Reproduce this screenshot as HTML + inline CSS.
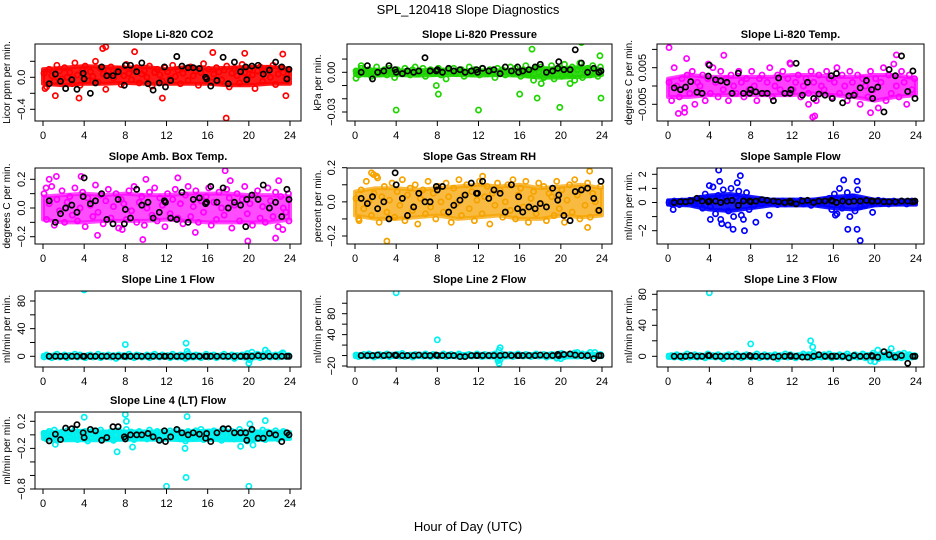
<!DOCTYPE html>
<html><head><meta charset="utf-8">
<style>
html,body{margin:0;padding:0;background:#fff;}
svg{display:block;font-family:"Liberation Sans",Arial,sans-serif;}
</style></head>
<body>
<svg id="chart" width="936" height="540" viewBox="0 0 936 540" xmlns="http://www.w3.org/2000/svg">
<rect x="0" y="0" width="936" height="540" fill="#fff"/>
<text x="468" y="14" text-anchor="middle" font-size="13">SPL_120418  Slope Diagnostics</text>
<text x="468" y="531" text-anchor="middle" font-size="13">Hour of Day (UTC)</text>
</svg>
<script>
// ---- shared sample hours ----
const hoursC = [0.1,0.35,0.6,0.85,1.1,1.35,1.6,1.85,2.1,2.35,2.6,2.85,3.1,3.35,3.6,3.85,4.1,4.35,4.6,4.85,5.1,5.35,5.6,5.85,6.1,6.35,6.6,6.85,7.1,7.35,7.6,7.85,8.1,8.35,8.6,8.85,9.1,9.35,9.6,9.85,10.1,10.35,10.6,10.85,11.1,11.35,11.6,11.85,12.1,12.35,12.6,12.85,13.1,13.35,13.6,13.85,14.1,14.35,14.6,14.85,15.1,15.35,15.6,15.85,16.1,16.35,16.6,16.85,17.1,17.35,17.6,17.85,18.1,18.35,18.6,18.85,19.1,19.35,19.6,19.85,20.1,20.35,20.6,20.85,21.1,21.35,21.6,21.85,22.1,22.35,22.6,22.85,23.1,23.35,23.6,23.85];
const hoursB = [0.6,1.2,1.7,2.2,2.8,3.3,3.9,4.0,4.6,5.1,5.7,6.2,6.8,7.3,7.9,8.0,8.5,9.1,9.6,10.2,10.7,11.3,11.8,11.9,12.4,13.0,13.5,14.1,14.6,15.2,15.8,15.9,16.3,16.9,17.5,18.0,18.6,19.2,19.7,19.8,20.3,20.9,21.4,22.0,22.6,23.2,23.7,23.9];
const bandHours = [0,2,4,6,8,10,12,14,16,18,20,22,24];
const xTicks = [0,4,8,12,16,20,24];

// ---- CO2 ----
const co2Color = [0.05,-0.12,0.1,0.02,-0.05,0.15,0.08,-0.02,0.12,0.0,0.06,-0.08,0.18,0.03,-0.1,0.09,0.14,-0.04,0.07,0.01,0.2,-0.06,0.11,0.04,-0.15,0.08,0.13,-0.01,0.06,0.1,-0.09,0.02,0.16,0.05,-0.03,0.09,0.12,-0.07,0.04,0.08,0.0,0.14,-0.11,0.06,0.1,0.03,-0.05,0.12,0.07,-0.02,0.15,0.01,0.09,-0.08,0.05,0.11,-0.04,0.13,0.02,0.08,-0.1,0.06,0.17,0.0,0.1,-0.06,0.04,0.12,0.07,-0.03,0.09,0.14,-0.12,0.05,0.11,0.02,-0.07,0.16,0.06,-0.01,0.1,0.03,-0.14,0.08,0.13,-0.05,0.07,0.11,0.0,0.15,-0.09,0.04,0.12,0.06,-0.02,0.09];
const co2BandLo = [-0.08,-0.1,-0.08,-0.08,-0.07,-0.08,-0.08,-0.08,-0.08,-0.1,-0.1,-0.08,-0.08];
const co2BandHi = [0.1,0.12,0.14,0.13,0.12,0.13,0.1,0.13,0.11,0.12,0.13,0.13,0.11];
const co2OutX = [5.8,6.1,11.6,17.8,19.6,16.5,1.2,0.2,23.6,8.9,3.5,23.3];
const co2OutY = [0.36,0.38,-0.26,-0.51,0.3,0.31,-0.23,-0.14,-0.23,0.32,-0.26,0.29];
const co2Black = [-0.08,0.04,-0.05,-0.14,-0.03,-0.15,0.05,-0.02,-0.2,-0.07,0.13,0.02,0.02,0.07,-0.1,0.15,0.15,0.07,0.18,-0.08,-0.16,-0.07,0.13,-0.12,-0.04,0.26,0.14,0.12,0.12,0.11,0.0,-0.02,-0.11,-0.04,0.25,-0.08,0.19,0.07,0.13,-0.03,0.14,0.15,0.04,0.09,0.19,0.13,-0.02,0.1];

// ---- Pressure ----
const presColor = [0.001,-0.002,0.003,0.0,-0.001,0.002,-0.003,0.001,0.004,-0.001,0.0,0.002,-0.002,0.003,0.001,-0.004,0.002,0.0,-0.001,0.003,0.001,-0.002,0.002,0.004,-0.001,0.0,0.003,-0.003,0.001,0.002,-0.001,0.0,0.003,-0.002,0.001,-0.005,0.002,0.0,0.003,-0.001,0.001,0.002,-0.003,0.0,0.004,-0.001,0.002,0.001,-0.002,0.003,0.0,-0.001,0.002,0.001,-0.004,0.003,0.0,0.002,-0.002,0.001,0.004,-0.001,0.003,0.0,-0.003,0.002,0.005,-0.002,0.001,-0.006,0.003,0.0,0.004,-0.004,0.002,-0.001,0.005,-0.005,0.001,0.003,-0.003,0.006,0.0,-0.002,0.004,-0.006,0.002,0.007,-0.004,0.001,0.003,-0.002,0.005,0.0,-0.003,0.004];
const presBandLo = [-0.002,-0.0025,-0.002,-0.0025,-0.002,-0.002,-0.0025,-0.002,-0.0025,-0.004,-0.004,-0.0035,-0.002];
const presBandHi = [0.0015,0.002,0.0015,0.0015,0.002,0.0015,0.0015,0.0015,0.002,0.003,0.003,0.004,0.002];
const presOutX = [0.1,0.6,4.0,8.1,12.0,16.0,17.2,17.7,19.9,22.0,23.9,23.8,18.1,20.9,7.9];
const presOutY = [-0.0045,0.005,-0.0285,-0.0165,-0.0285,-0.0165,0.0175,-0.0195,-0.0265,0.0225,-0.0195,0.0125,-0.0085,-0.0085,-0.01];
const presBlack = [0.0,0.005,-0.005,0.0,0.001,0.005,0.002,0.0,-0.001,0.001,0.0,0.001,0.011,0.001,0.001,0.002,0.0,0.003,0.001,0.002,0.0,0.001,0.002,0.0,0.003,0.001,0.002,-0.001,0.004,0.001,0.004,0.0,0.001,0.002,0.004,0.006,0.0,0.001,0.003,0.008,0.002,0.002,0.017,0.007,0.0,0.003,0.0,0.001];

// ---- Li-820 Temp ----
const tempColor = [0.001,-0.004,0.005,0.0,-0.003,0.002,-0.006,0.003,-0.002,0.004,-0.005,0.001,0.0,0.003,-0.004,0.002,-0.002,0.005,0.001,-0.003,0.004,-0.001,0.002,-0.004,0.003,0.0,-0.002,0.004,0.001,-0.003,0.002,-0.001,0.004,0.0,-0.004,0.002,0.003,-0.002,0.001,0.005,-0.003,0.0,0.003,-0.001,0.004,-0.002,0.002,0.006,-0.001,0.001,0.003,-0.003,0.0,0.002,-0.002,0.004,0.001,-0.004,0.003,0.0,-0.001,0.004,0.002,-0.003,0.001,0.005,-0.002,0.003,0.0,-0.004,0.004,0.001,-0.002,0.003,-0.005,0.002,0.0,-0.003,0.004,-0.001,0.002,-0.006,0.001,0.005,-0.004,0.003,-0.002,0.006,0.0,-0.003,0.004,0.001,-0.005,0.003,-0.001,0.002];
const tempBandLo = [-0.003,-0.003,-0.0025,-0.0025,-0.0025,-0.0025,-0.0025,-0.002,-0.0025,-0.003,-0.004,-0.003,-0.0025];
const tempBandHi = [0.002,0.003,0.0025,0.0025,0.0025,0.0025,0.003,0.003,0.0025,0.0025,0.003,0.003,0.002];
const tempOutX = [0.1,14.0,14.2,13.6,19.6,3.9,11.8,22.1,5.4,1.0,1.6,1.8];
const tempOutY = [0.0105,-0.0085,-0.0082,-0.005,-0.0073,0.006,0.0063,0.0085,0.0084,-0.0075,-0.0072,0.0075];
const tempBlack = [-0.0005,-0.001,-0.0003,0.0012,-0.0017,-0.002,0.0027,0.0057,0.0017,0.0014,0.001,-0.002,0.0035,-0.002,-0.002,-0.001,-0.0016,-0.002,-0.002,-0.004,0.0022,-0.002,-0.002,-0.001,0.0062,-0.0025,0.001,-0.0034,-0.0022,-0.0025,0.0028,-0.0034,0.0034,-0.0046,-0.0027,-0.0025,-0.0005,0.0015,-0.001,-0.0034,-0.0003,-0.0071,0.0045,0.0028,0.0082,-0.0015,0.0041,-0.0034];

// ---- Amb. Box Temp ----
const ambColor = [0.1,-0.08,0.03,0.15,-0.12,0.06,-0.02,0.12,-0.1,0.04,0.08,-0.05,0.14,-0.09,0.0,0.11,-0.13,0.07,0.02,-0.06,0.16,-0.03,0.09,-0.11,0.05,0.13,-0.07,0.01,0.1,-0.14,0.06,0.03,-0.08,0.12,-0.02,0.15,-0.1,0.04,0.08,-0.12,0.0,0.11,-0.05,0.14,-0.09,0.07,0.02,-0.13,0.1,-0.04,0.06,0.13,-0.07,0.03,-0.11,0.09,0.15,-0.06,0.01,0.12,-0.1,0.05,-0.03,0.08,0.14,-0.12,0.04,-0.08,0.11,0.0,-0.05,0.13,0.07,-0.14,0.02,0.1,-0.09,0.06,0.15,-0.04,0.03,-0.12,0.09,0.12,-0.07,0.01,-0.1,0.14,0.05,-0.06,0.11,-0.13,0.08,0.0,-0.03,0.1];
const ambBandLo = [-0.08,-0.1,-0.1,-0.09,-0.09,-0.09,-0.08,-0.09,-0.1,-0.1,-0.1,-0.1,-0.08];
const ambBandHi = [0.08,0.09,0.1,0.09,0.1,0.09,0.09,0.1,0.1,0.1,0.09,0.09,0.08];
const ambOutX = [0.6,1.3,3.7,5.3,9.7,10.0,13.1,17.7,18.2,19.9,22.6,22.9,23.3,23.9,7.7,14.8,0.3];
const ambOutY = [0.2,0.22,0.22,-0.19,-0.22,0.2,0.21,0.26,0.19,-0.23,-0.21,0.19,-0.15,-0.09,-0.15,-0.17,0.14];
const ambBlack = [0.05,-0.1,-0.04,0.0,0.02,-0.03,0.08,0.21,0.03,0.05,0.1,-0.08,-0.11,0.06,-0.11,-0.01,-0.07,0.13,0.02,0.04,-0.07,-0.03,0.05,0.04,-0.07,-0.08,0.11,-0.1,0.06,0.07,0.03,0.04,0.15,0.04,0.14,0.0,0.04,0.02,-0.13,0.06,0.09,0.06,0.16,0.0,0.04,-0.06,0.13,0.06];

// ---- Gas Stream RH ----
const rhColor = [0.02,-0.1,0.07,-0.04,0.12,0.0,-0.08,0.05,0.15,-0.12,0.03,0.09,-0.06,0.01,0.11,-0.09,0.06,-0.02,0.13,-0.11,0.04,0.08,-0.05,0.1,-0.13,0.02,0.07,-0.07,0.12,-0.03,0.05,-0.1,0.09,0.0,-0.06,0.11,0.03,-0.12,0.08,-0.01,0.13,-0.08,0.04,0.1,-0.04,0.06,-0.11,0.01,0.12,-0.07,0.03,0.09,-0.13,0.05,-0.02,0.11,0.07,-0.09,0.0,0.1,-0.05,0.13,-0.1,0.04,0.08,-0.03,0.12,-0.12,0.02,0.06,-0.07,0.11,-0.01,0.09,-0.11,0.05,0.03,-0.08,0.12,-0.04,0.07,-0.12,0.01,0.1,-0.06,0.13,0.04,-0.1,0.08,-0.02,0.11,-0.09,0.05,0.0,-0.05,0.09];
const rhBandLo = [-0.08,-0.1,-0.1,-0.09,-0.08,-0.1,-0.09,-0.08,-0.1,-0.1,-0.08,-0.09,-0.08];
const rhBandHi = [0.06,0.08,0.08,0.07,0.08,0.09,0.1,0.09,0.1,0.08,0.09,0.1,0.08];
const rhOutX = [1.6,1.8,3.1,22.8,22.6,12.4,2.2,0.4];
const rhOutY = [0.17,0.16,-0.23,0.18,-0.15,0.15,0.14,-0.11];
const rhBlack = [0.02,-0.01,0.03,-0.04,0.0,-0.1,0.17,0.1,0.02,-0.08,-0.03,0.05,0.0,0.0,0.09,0.07,0.09,-0.06,-0.02,0.01,0.04,0.11,0.05,0.05,0.12,0.02,0.07,0.05,-0.06,0.1,-0.04,0.03,-0.06,-0.03,-0.04,-0.01,-0.03,0.08,0.01,0.04,-0.08,-0.11,0.06,0.07,0.08,0.02,-0.05,0.12];

// ---- Sample Flow ----
const sfColor = [0.0,-0.1,0.1,0.05,-0.15,0.1,0.0,-0.05,0.15,0.1,-0.1,0.05,0.3,-0.4,0.6,0.2,-0.3,1.1,-0.8,0.5,-1.2,0.9,0.3,-0.6,1.0,-1.0,0.4,0.8,-0.9,0.2,0.7,-0.5,0.1,-0.2,0.05,0.15,-0.1,0.0,0.1,-0.05,0.05,0.1,-0.15,0.0,0.1,-0.1,0.05,0.0,0.1,-0.05,0.0,0.15,-0.1,0.05,0.0,-0.2,0.1,0.05,-0.1,0.0,0.15,-0.1,0.3,-0.5,0.6,-0.8,1.0,-0.4,0.2,0.7,-1.0,0.4,-0.6,0.9,-0.3,0.1,-0.2,0.05,0.1,-0.1,0.0,0.15,-0.05,0.1,0.0,-0.1,0.05,0.1,-0.05,0.0,0.1,0.05,-0.1,0.0,0.1,0.05];
const sfBandLo = [-0.15,-0.2,-0.5,-0.6,-0.4,-0.2,-0.2,-0.2,-0.4,-0.5,-0.2,-0.15,-0.15];
const sfBandHi = [0.15,0.2,0.5,0.6,0.4,0.2,0.2,0.2,0.4,0.5,0.2,0.15,0.15];
const sfOutX = [4.9,7.0,5.0,6.7,5.2,5.8,6.3,7.4,4.1,8.5,9.8,17.0,18.3,17.4,18.3,18.6,19.8,4.0,7.3,16.2,0.5];
const sfOutY = [2.3,1.9,1.5,1.4,-1.5,-1.6,-1.9,-2.0,-1.2,-1.4,-0.9,1.6,1.5,-1.9,-1.9,-2.7,-0.7,1.2,-1.2,-0.9,-0.5];
const sfBlack = [0.0,0.05,0.05,0.1,0.3,0.1,0.05,0.1,0.1,0.0,0.1,0.15,-0.2,0.1,0.1,0.05,0.1,0.2,0.15,0.1,0.05,0.0,0.1,0.0,-0.1,0.1,0.15,0.0,0.1,0.1,0.15,0.1,0.0,0.1,0.05,0.1,0.1,0.15,0.1,0.1,0.1,0.05,0.05,0.05,0.1,0.1,0.05,0.1];

// ---- Line 1 Flow ----
const l1Color = [-1,2,0,-2,1,3,-1,0,2,-2,1,0,3,-1,2,0,-2,1,2,-1,0,3,-2,1,0,2,-1,1,-3,2,0,1,-1,3,0,-2,2,1,-1,0,2,-2,1,3,0,-1,2,0,1,-2,3,0,-1,2,1,-3,4,0,-1,2,1,-2,0,3,-1,1,2,-2,0,1,3,-1,0,2,-3,1,0,2,-1,4,-5,1,0,3,-2,2,1,5,-1,0,2,-1,3,4,0,1];
const l1BandLo = [-2,-2,-2,-2,-2,-2,-2,-3,-2,-2,-3,-2,-2];
const l1BandHi = [2,2,2,2,2,2,2,3,2,2,3,3,2];
const l1OutX = [4.0,8.0,13.9,14.0,20.0,20.3,21.6,23.3];
const l1OutY = [96,17,19,7,-10,6,9,5];
const l1Black = [0,0,0,0,0,0,0,0,0,0,0,0,0,0,0,0,0,0,0,0,0,0,0,0,0,0,0,0,0,0,0,0,0,0,0,0,0,0,0,0,0,1,0,0,0,0,0,0];

// ---- Line 2 Flow ----
const l2Color = [1,-2,0,2,-1,3,0,-3,1,2,-1,0,3,-2,1,0,2,-1,4,-2,0,1,-3,2,0,1,-1,3,0,-2,2,1,-1,0,3,-2,1,2,0,-1,3,0,-2,1,2,-1,0,3,1,-2,2,0,-1,1,3,-4,-8,2,-1,0,2,-2,1,3,0,-1,2,1,-2,0,3,-1,1,2,-3,0,2,1,-5,3,4,-2,0,2,1,5,-1,0,3,-2,2,6,1,0,-1,2];
const l2BandLo = [-3,-3,-3,-3,-3,-3,-3,-4,-3,-3,-4,-3,-3];
const l2BandHi = [3,3,3,3,3,3,3,4,3,3,4,4,3];
const l2OutX = [4.0,8.0,14.0,14.1,13.9,14.0,20.0,21.6,23.3];
const l2OutY = [120,30,10,15,-10,-15,-6,6,6];
const l2Black = [0,0,0,1,0,1,1,0,0,0,0,1,0,0,1,0,0,0,0,-2,-2,0,0,0,0,0,0,0,1,0,0,0,0,0,0,1,0,0,2,0,2,3,1,0,0,-6,0,0];

// ---- Line 3 Flow ----
const l3Color = [0,1,-1,2,0,-2,1,3,-1,0,2,-1,1,0,-2,3,0,1,-1,2,0,-3,1,2,0,-1,3,0,-2,1,2,0,-1,1,3,-2,0,2,-1,1,0,2,-3,1,0,3,-1,2,0,-2,1,0,3,-1,2,-2,4,1,0,-1,2,0,3,-2,1,0,2,-1,1,3,-2,0,2,-1,0,3,-2,1,-6,4,2,-3,1,0,2,5,-1,1,0,3,-2,4,0,2,-1,1];
const l3BandLo = [-2,-2,-2,-2,-2,-2,-2,-2,-2,-2,-3,-3,-2];
const l3BandHi = [2,2,2,2,2,2,2,3,2,2,3,3,2];
const l3OutX = [4.0,8.0,13.8,14.0,20.0,20.3,21.6];
const l3OutY = [82,16,20,12,-7,8,10];
const l3Black = [0,0,0,1,0,0,1,1,0,0,0,0,0,0,1,0,0,0,0,-1,0,0,1,0,0,-1,-1,0,2,0,0,0,0,0,-2,1,0,0,1,0,-1,6,2,-1,1,-9,0,0];

// ---- Line 4 (LT) Flow ----
const l4Color = [0.02,-0.06,0.05,-0.02,0.07,-0.08,0.01,0.04,-0.05,0.06,-0.03,0.0,0.08,-0.07,0.03,-0.01,0.05,-0.09,0.02,0.06,-0.04,0.01,0.07,-0.06,0.03,-0.02,0.05,-0.08,0.0,0.06,-0.05,0.02,0.08,-0.03,0.04,-0.07,0.01,0.05,-0.04,0.03,-0.06,0.07,0.0,-0.02,0.05,-0.08,0.04,0.02,-0.05,0.06,-0.03,0.01,0.07,-0.06,0.03,-0.09,0.05,0.0,-0.04,0.06,-0.02,0.08,-0.07,0.02,0.04,-0.05,0.06,-0.01,0.03,-0.08,0.07,0.0,-0.04,0.05,-0.06,0.02,0.08,-0.03,0.04,-0.09,0.01,0.06,-0.05,0.03,-0.02,0.07,-0.07,0.04,0.0,-0.04,0.06,-0.06,0.02,0.05,-0.03,0.01];
const l4BandLo = [-0.06,-0.08,-0.08,-0.08,-0.07,-0.07,-0.07,-0.08,-0.07,-0.08,-0.08,-0.07,-0.06];
const l4BandHi = [0.04,0.05,0.06,0.05,0.05,0.05,0.05,0.05,0.06,0.06,0.05,0.05,0.04];
const l4OutX = [4.0,8.0,8.1,14.0,7.2,12.0,13.9,20.0,13.8,21.6,8.7,19.2,20.4,1.2,20.1];
const l4OutY = [0.26,0.3,0.2,0.27,-0.25,-0.76,-0.63,-0.76,-0.2,0.21,-0.18,-0.17,-0.15,-0.14,0.16];
const l4Black = [-0.09,0.01,-0.07,0.1,0.09,0.15,0.03,-0.04,0.08,0.06,-0.08,-0.04,0.12,0.12,-0.03,-0.06,0.0,0.0,0.0,0.02,-0.03,-0.08,0.06,-0.1,-0.03,0.08,0.03,0.0,0.03,0.01,-0.05,0.02,-0.1,0.03,0.09,0.09,0.03,0.03,0.03,-0.08,0.08,-0.05,-0.05,0.02,0.0,-0.1,0.03,0.0];

// ---- Y-axis tick values and labels ----
const yt1 = [-0.4,-0.2,0,0.2], yl1 = ["−0.4","","0.0",""];
const yt2 = [-0.03,-0.02,-0.01,0,0.01], yl2 = ["−0.03","","","0.00",""];
const yt3 = [-0.005,0,0.005,0.01], yl3 = ["−0.005","","0.005",""];
const yt4 = [-0.2,-0.1,0,0.1,0.2], yl4 = ["−0.2","","0.0","","0.2"];
const yt5 = [-0.2,-0.1,0,0.1,0.2], yl5 = ["−0.2","","0.0","","0.2"];
const yt6 = [-2,-1,0,1,2], yl6 = ["−2","","0","1","2"];
const yt7 = [0,20,40,60,80], yl7 = ["0","","40","","80"];
const yt8 = [-20,0,20,40,60,80,100], yl8 = ["−20","","","40","","80",""];
const yt9 = [0,20,40,60,80], yl9 = ["0","","40","","80"];
const yt10 = [-0.8,-0.6,-0.4,-0.2,0,0.2], yl10 = ["−0.8","","","−0.2","","0.2"];

// ---- layout (pixels) ----
const cols = [{l:35,r:301,x0:43,x24:290,yt:10,yl:25},{l:347,r:612,x0:355,x24:602,yt:321,yl:335},{l:657,r:924,x0:668,x24:916,yt:632,yl:646}];
const rows = [{t:44,b:121,title:38},{t:168,b:244,title:160},{t:291,b:367,title:283},{t:412,b:489,title:404}];

const panels = [
 {name:"co2",title:"Slope Li-820 CO2",ytitle:"Licor ppm per min.",col:0,row:0,color:"#ff0000",op:0.9,c:co2Color,lo:co2BandLo,hi:co2BandHi,ox:co2OutX,oy:co2OutY,k:co2Black,yt:yt1,yl:yl1,ref:[0,77.3,-0.4,109.3]},
 {name:"pressure",title:"Slope Li-820 Pressure",ytitle:"kPa per min.",col:1,row:0,color:"#1fd400",op:0.9,c:presColor,lo:presBandLo,hi:presBandHi,ox:presOutX,oy:presOutY,k:presBlack,yt:yt2,yl:yl2,ref:[0,72.3,-0.03,112]},
 {name:"li820-temp",title:"Slope Li-820 Temp.",ytitle:"degrees C per min.",col:2,row:0,color:"#ff00ff",op:0.75,c:tempColor,lo:tempBandLo,hi:tempBandHi,ox:tempOutX,oy:tempOutY,k:tempBlack,yt:yt3,yl:yl3,ref:[0.005,67.7,-0.005,104.3]},
 {name:"amb-box-temp",title:"Slope Amb. Box Temp.",ytitle:"degrees C per min.",col:0,row:1,color:"#ff00ff",op:0.7,c:ambColor,lo:ambBandLo,hi:ambBandHi,ox:ambOutX,oy:ambOutY,k:ambBlack,yt:yt4,yl:yl4,ref:[0.2,179.3,-0.2,236.7]},
 {name:"gas-stream-rh",title:"Slope Gas Stream RH",ytitle:"percent per min.",col:1,row:1,color:"#f5a300",op:0.75,c:rhColor,lo:rhBandLo,hi:rhBandHi,ox:rhOutX,oy:rhOutY,k:rhBlack,yt:yt5,yl:yl5,ref:[0.2,167.7,-0.2,236]},
 {name:"sample-flow",title:"Slope Sample Flow",ytitle:"ml/min per min.",col:2,row:1,color:"#0000ff",op:0.9,c:sfColor,lo:sfBandLo,hi:sfBandHi,ox:sfOutX,oy:sfOutY,k:sfBlack,yt:yt6,yl:yl6,ref:[2,174.3,-2,230.7]},
 {name:"line1-flow",title:"Slope Line 1 Flow",ytitle:"ml/min per min.",col:0,row:2,color:"#00f0f0",op:0.9,c:l1Color,lo:l1BandLo,hi:l1BandHi,ox:l1OutX,oy:l1OutY,k:l1Black,yt:yt7,yl:yl7,ref:[0,356.3,80,301]},
 {name:"line2-flow",title:"Slope Line 2 Flow",ytitle:"ml/min per min.",col:1,row:2,color:"#00f0f0",op:0.9,c:l2Color,lo:l2BandLo,hi:l2BandHi,ox:l2OutX,oy:l2OutY,k:l2Black,yt:yt8,yl:yl8,ref:[-20,366,80,313.7]},
 {name:"line3-flow",title:"Slope Line 3 Flow",ytitle:"ml/min per min.",col:2,row:2,color:"#00f0f0",op:0.9,c:l3Color,lo:l3BandLo,hi:l3BandHi,ox:l3OutX,oy:l3OutY,k:l3Black,yt:yt9,yl:yl9,ref:[0,356.3,80,294.3]},
 {name:"line4-flow",title:"Slope Line 4 (LT) Flow",ytitle:"ml/min per min.",col:0,row:3,color:"#00f0f0",op:0.95,c:l4Color,lo:l4BandLo,hi:l4BandHi,ox:l4OutX,oy:l4OutY,k:l4Black,yt:yt10,yl:yl10,ref:[0.2,421.3,-0.8,489]}
];

const NS = "http://www.w3.org/2000/svg";
const svg = document.getElementById("chart");
function mk(tag, attrs, parent){const e=document.createElementNS(NS,tag);for(const a in attrs)e.setAttribute(a,attrs[a]);(parent||svg).appendChild(e);return e;}

panels.forEach((p, pi) => {
  const C = cols[p.col], R = rows[p.row];
  const xs = h => C.x0 + (h/24)*(C.x24 - C.x0);
  const ys = v => p.ref[1] + (v - p.ref[0])*(p.ref[3]-p.ref[1])/(p.ref[2]-p.ref[0]);
  const g = mk("g", {});
  
  
  const cp = mk("clipPath", {id:"clip"+pi}, g);
  mk("rect", {x:C.l, y:R.t, width:C.r-C.l, height:R.b-R.t}, cp);

  const t = mk("text", {x:(C.l+C.r)/2, y:R.title, "text-anchor":"middle", "font-size":"11", "font-weight":"bold"}, g);
  t.textContent = p.title;
  
  

  const yt = mk("text", {x:C.yt, y:(R.t+R.b)/2, "text-anchor":"middle", "font-size":"10", transform:`rotate(-90 ${C.yt} ${(R.t+R.b)/2})`}, g);
  yt.textContent = p.ytitle;
  
  

  const pts = mk("g", {"clip-path":`url(#clip${pi})`, fill:"none"}, g);
  
  

  // dense point cloud envelope
  const nb0 = Math.min(bandHours.length, p.lo.length, p.hi.length);
  let d = "";
  for (let i=0;i<nb0;i++) d += (i?"L":"M") + xs(bandHours[i]) + "," + ys(p.hi[i]);
  for (let i=nb0-1;i>=0;i--) d += "L" + xs(bandHours[i]) + "," + ys(p.lo[i]);
  const band = mk("path", {d:d+"Z", fill:p.color, "fill-opacity":p.op, stroke:p.color, "stroke-width":4, "stroke-linejoin":"round", "stroke-opacity":p.op}, pts);
  
  

  const n = Math.min(hoursC.length, p.c.length);
  for (let i=0;i<n;i++){
    const c = mk("circle", {cx:xs(hoursC[i]), cy:ys(p.c[i]), r:2.6, stroke:p.color, "stroke-width":1.7}, pts);
    
    
  }
  for (let i=0;i<Math.min(p.ox.length,p.oy.length);i++){
    const c = mk("circle", {cx:xs(p.ox[i]), cy:ys(p.oy[i]), r:2.6, stroke:p.color, "stroke-width":1.7}, pts);
    
    
  }
  const nb = Math.min(hoursB.length, p.k.length);
  for (let i=0;i<nb;i++){
    const c = mk("circle", {cx:xs(hoursB[i]), cy:ys(p.k[i]), r:2.6, stroke:"#000", "stroke-width":1.7}, pts);
    
    
  }

  const box = mk("rect", {x:C.l, y:R.t, width:C.r-C.l, height:R.b-R.t, fill:"none", stroke:"#000", "stroke-width":1}, g);
  
  

  xTicks.forEach(h => {
    const x = xs(h);
    mk("line", {x1:x, y1:R.b, x2:x, y2:R.b+5, stroke:"#000"}, g);
    const lt = mk("text", {x:x, y:R.b+18, "text-anchor":"middle", "font-size":"11"}, g);
    lt.textContent = String(h);
    
    
  });

  p.yt.forEach((v, i) => {
    const y = ys(v);
    mk("line", {x1:C.l-5, y1:y, x2:C.l, y2:y, stroke:"#000"}, g);
    if (p.yl[i]) {
      const lt = mk("text", {x:C.yl, y:y, "text-anchor":"middle", "font-size":"11", transform:`rotate(-90 ${C.yl} ${y})`}, g);
      lt.textContent = p.yl[i];
      
      
    }
  });
});
</script>
</body></html>
